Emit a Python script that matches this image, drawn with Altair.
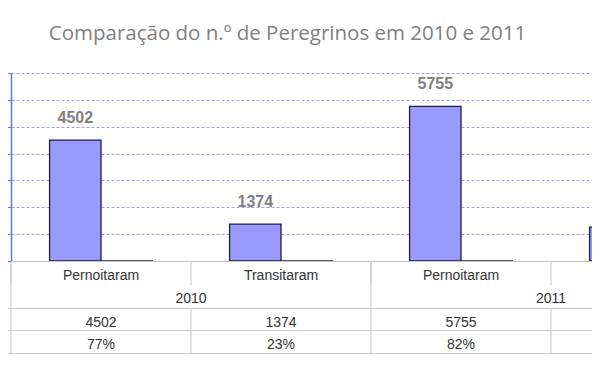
import altair as alt
import pandas as pd

# ---- data ----
titulo = "Comparação do n.º de Peregrinos em 2010 e 2011"
anos = ["2010", "2010", "2011", "2011"]
tipos = ["Pernoitaram", "Transitaram", "Pernoitaram", "Transitaram"]
peregrinos = [4502, 1374, 5755, 1263]
percentagens = [0.77, 0.23, 0.82, 0.18]
series = ["Peregrinos", "%"]
y_ticks = [0, 1000, 2000, 3000, 4000, 5000, 6000, 7000]

cats = [f"{a} {t}" for a, t in zip(anos, tipos)]
df = pd.DataFrame({"cat": cats, "ano": anos, "tipo": tipos,
                   "peregrinos": peregrinos, "pct": percentagens})
long = pd.concat([
    pd.DataFrame({"cat": cats, "serie": series[0], "valor": peregrinos}),
    pd.DataFrame({"cat": cats, "serie": series[1], "valor": percentagens}),
], ignore_index=True)
anos_df = df.groupby("ano", as_index=False).first()
tit_df = pd.DataFrame({"t": [titulo]})

PW = 581  # plot width (svg = 3 + 581 = 584)
xscale = alt.Scale(domain=cats, range=[0, 720], paddingInner=0, paddingOuter=0)
X = alt.X("cat:N", scale=xscale, axis=None)
XOFF = alt.XOffset("serie:N", scale=alt.Scale(domain=series, paddingInner=0,
                                               paddingOuter=0.75))
yaxis = alt.Axis(values=y_ticks, labels=False, tickSize=6, title=None,
                 tickColor="#5a7ae6", domainColor="#5a7ae6", domainWidth=1.5,
                 gridColor="#9c9cf0", gridDash=[3, 2], gridWidth=1)
yscale = alt.Scale(domain=[0, 7000], nice=False)
Y = alt.Y("valor:Q", scale=yscale, axis=yaxis)

base = alt.Chart(long)

bars = base.mark_bar(fill="#9999ff", stroke="#20203a", strokeWidth=1.3).encode(
    x=X, xOffset=XOFF, y=Y)

labels = base.transform_filter(alt.datum.serie == "Peregrinos").mark_text(
    font="Liberation Sans", fontSize=16, fontWeight="bold", color="#7f7f7f",
    baseline="alphabetic", dy=-17).encode(
    x=X, xOffset=XOFF, y=Y, text=alt.Text("valor:Q", format="d"))

baseline = alt.Chart(df).mark_rule(color="#c4c4c4", strokeWidth=1).encode(
    x=alt.value(0), x2=alt.value(PW), y=alt.value(188.5))

title = alt.Chart(tit_df).mark_text(
    font="Open Sans", fontSize=20.5, color="#7f7f7f", baseline="alphabetic",
    align="center").encode(x=alt.value(276.5), y=alt.value(-33), text="t:N")

tcol = "#333333"
tfont = "Liberation Sans"
XC = alt.X("cat:N", scale=xscale, bandPosition=0.5, axis=None)
head = alt.Chart(df).mark_text(font=tfont, fontSize=14, color=tcol, baseline="middle").encode(
    x=XC, y=alt.value(202.5), text="tipo:N")
row_val = alt.Chart(df).mark_text(font=tfont, fontSize=14, color=tcol, baseline="middle").encode(
    x=XC, y=alt.value(249.5), text=alt.Text("peregrinos:Q", format="d"))
row_pct = alt.Chart(df).mark_text(font=tfont, fontSize=14, color=tcol, baseline="middle").encode(
    x=XC, y=alt.value(271.5), text=alt.Text("pct:Q", format=".0%"))
year_lbl = alt.Chart(anos_df).mark_text(font=tfont, fontSize=14, color=tcol, baseline="middle").encode(
    x=alt.X("cat:N", scale=xscale, bandPosition=1, axis=None), y=alt.value(225.5), text="ano:N")

gcol = "#c8c8c8"
XL = alt.X("cat:N", scale=xscale, bandPosition=0, axis=None)
v_head = alt.Chart(df).mark_rule(color=gcol).encode(
    x=XL, y=alt.value(189), y2=alt.value(212))
v_year = alt.Chart(anos_df).mark_rule(color=gcol).encode(
    x=XL, y=alt.value(189), y2=alt.value(235))
v_rows = alt.Chart(df).mark_rule(color=gcol).encode(
    x=XL, y=alt.value(235), y2=alt.value(280))
h_rows = [
    alt.Chart(tit_df).mark_rule(color=gcol).encode(
        x=alt.value(-3), x2=alt.value(PW), y=alt.value(yy))
    for yy in (235.5, 257.5, 280.5)
]

chart = alt.layer(
    bars, labels, baseline, title, head, year_lbl, row_val, row_pct,
    v_head, v_year, v_rows, *h_rows
).properties(
    width=PW, height=188,
    autosize=alt.AutoSizeParams(type="none"),
    padding={"left": 3, "top": 65, "right": 0, "bottom": 97},
).configure_view(stroke=None)

chart.save("out.html", embed_options={"renderer": "svg", "actions": False})
